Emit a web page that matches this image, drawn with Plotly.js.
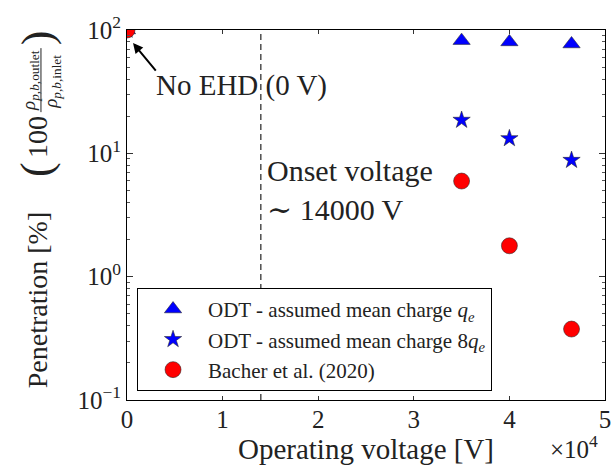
<!DOCTYPE html>
<html>
<head>
<meta charset="utf-8">
<script src="https://cdn.plot.ly/plotly-3.0.1.min.js"></script>
<style>html,body{margin:0;padding:0;background:#fff;}#chart{width:616px;height:473px;}</style>
</head>
<body>
<div id="chart"></div>
<script>
// Operating voltage [V]
const voltage = [0, 35000, 40000, 46500];
// Penetration [%]
const odtQe = [100, 82, 80, 77];
const odt8Qe = [100, 18.6, 13.2, 8.8];
const bacher = [100, 5.96, 1.78, 0.376];
const onsetVoltage = 14000;
const xTickVals = [0, 10000, 20000, 30000, 40000, 50000];
const xTickText = ['0', '1', '2', '3', '4', '5'];
const yTickVals = [0.1, 1, 10, 100];
const yTickText = ['10<sup>−1</sup>', '10<sup>0</sup>', '10<sup>1</sup>', '10<sup>2</sup>'];
const yMinorVals = [0.2, 0.3, 0.4, 0.5, 0.6, 0.7, 0.8, 0.9, 2, 3, 4, 5, 6, 7, 8, 9, 20, 30, 40, 50, 60, 70, 80, 90];
const seriesNames = [
  'ODT - assumed mean charge <i>q<sub>e</sub></i>',
  'ODT - assumed mean charge 8<i>q<sub>e</sub></i>',
  'Bacher et al. (2020)'
];

const FONT = '"Liberation Serif", "DejaVu Serif", serif';
const TXT = '#222';
const edge = {color: 'rgba(40,40,40,0.8)', width: 0.7};

const traces = [
  {x: voltage, y: odtQe, name: seriesNames[0], mode: 'markers', type: 'scatter',
   marker: {symbol: 'triangle-up', size: 15, color: '#0000ff', line: edge}},
  {x: voltage, y: odt8Qe, name: seriesNames[1], mode: 'markers', type: 'scatter',
   marker: {symbol: 'star', size: 13, color: '#0000ff', line: edge}},
  {x: voltage, y: bacher, name: seriesNames[2], mode: 'markers', type: 'scatter',
   marker: {symbol: 'circle', size: 16, color: '#ff0000', line: edge}},
  // carrier for the minor-tick axis (no points)
  {x: [], y: [], yaxis: 'y2', type: 'scatter', mode: 'markers', showlegend: false, hoverinfo: 'skip'}
];

const axisCommon = {
  showgrid: false, zeroline: false, showline: true, linecolor: '#000', linewidth: 1,
  mirror: 'ticks', ticks: 'inside', tickcolor: '#333', tickfont: {family: FONT, size: 25, color: TXT}
};

function ann(x, y, text, size, extra) {
  return Object.assign({xref: 'paper', yref: 'paper', x: x, y: y, text: text, showarrow: false,
    xanchor: 'center', yanchor: 'middle', font: {family: FONT, size: size, color: TXT}}, extra || {});
}

const layout = {
  width: 616, height: 473,
  margin: {l: 127, r: 11, t: 30, b: 73},
  paper_bgcolor: '#fff', plot_bgcolor: '#fff',
  font: {family: FONT, color: TXT},
  showlegend: true,
  legend: {
    x: 0.021, y: 0.303, xanchor: 'left', yanchor: 'top',
    bgcolor: '#fff', bordercolor: '#000', borderwidth: 1,
    font: {family: FONT, size: 21, color: TXT},
    itemwidth: 60, tracegroupgap: 0
  },
  xaxis: Object.assign({}, axisCommon, {
    range: [0, 50000], tickmode: 'array', tickvals: xTickVals, ticktext: xTickText, ticklen: 4,
    ticklabelstandoff: -3,
    title: {text: 'Operating voltage [V]', font: {family: FONT, size: 29, color: TXT}, standoff: 0}
  }),
  yaxis: Object.assign({}, axisCommon, {
    type: 'log', range: [-1, 2], tickmode: 'array', tickvals: yTickVals, ticktext: yTickText, ticklen: 6
  }),
  yaxis2: {
    type: 'log', range: [-1, 2], overlaying: 'y', side: 'left', tickmode: 'array', tickvals: yMinorVals,
    ticks: 'inside', ticklen: 3, tickcolor: '#555', showticklabels: false, showgrid: false,
    zeroline: false, showline: false, mirror: 'ticks'
  },
  shapes: [
    {type: 'line', xref: 'x', yref: 'paper', x0: onsetVoltage, x1: onsetVoltage, y0: 0, y1: 1,
     line: {color: '#222', width: 1.2, dash: '6px,4px'}},
    {type: 'line', xref: 'paper', yref: 'paper', x0: -0.180, x1: -0.180, y0: 0.778, y1: 0.951,
     line: {color: '#222', width: 1}}
  ],
  annotations: [
    // y title pieces
    ann(-0.188, 0.270, 'Penetration [%]', 28, {textangle: -90}),
    ann(-0.188, 0.622, '(', 44, {textangle: -90}),
    ann(-0.186, 0.711, '100', 28, {textangle: -90}),
    ann(-0.203, 0.865, '<i>ρ</i><sub><i>p,b,</i>outlet</sub>', 19, {textangle: -90}),
    ann(-0.157, 0.860, '<i>ρ</i><sub><i>p,b,</i>inlet</sub>', 19, {textangle: -90}),
    ann(-0.188, 0.978, ')', 44, {textangle: -90}),
    // x exponent
    ann(0.935, -0.128, '×10<sup>4</sup>', 25),
    // No EHD arrow
    {xref: 'x', yref: 'y', x: 630, y: Math.log10(78.4), text: '', showarrow: true,
     arrowhead: 2, arrowsize: 1, arrowwidth: 2, arrowcolor: '#000', ax: 24, ay: 29, standoff: 0},
    {xref: 'x', yref: 'y', x: 2800, y: Math.log10(35.2), text: 'No EHD (0 V)', xanchor: 'left', yanchor: 'middle',
     showarrow: false, font: {family: FONT, size: 29, color: TXT}},
    {xref: 'x', yref: 'y', x: 14400, y: Math.log10(5.0), text: 'Onset voltage<br>∼ 14000 V', xanchor: 'left', yanchor: 'middle', align: 'left',
     showarrow: false, font: {family: FONT, size: 30, color: TXT}}
  ]
};

Plotly.newPlot('chart', traces, layout, {displayModeBar: false, staticPlot: true});
</script>
</body>
</html>
